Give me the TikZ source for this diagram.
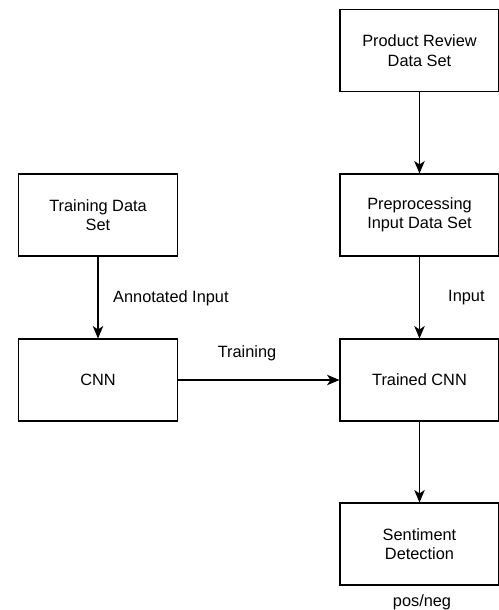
\documentclass[tikz,border=0pt]{standalone}
\usepackage{fontspec}
\setmainfont{Liberation Sans}
\usetikzlibrary{arrows.meta}

\begin{document}
\begin{tikzpicture}[>={Stealth[length=2.5mm,width=2.1mm,inset=0.7mm]},
  block/.style={rectangle,draw=black,line width=0.6pt,minimum width=3.18cm,minimum height=1.64cm,align=center,font=\fontsize{9.3}{11}\selectfont},
  lbl/.style={font=\fontsize{9.3}{11}\selectfont}]
\useasboundingbox (0,0) rectangle (9.98,-12.2);

\node[block] (review) at (8.39,-1.01)  {Product Review\\Data Set};
\node[block] (prep)   at (8.39,-4.30)  {Preprocessing\\Input Data Set};
\node[block] (tcnn)   at (8.39,-7.60)  {Trained CNN};
\node[block] (senti)  at (8.39,-10.88) {Sentiment\\Detection};
\node[block] (tdata)  at (1.96,-4.30)  {Training Data\\Set};
\node[block] (cnn)    at (1.96,-7.60)  {CNN};

\draw[->,line width=0.6pt] (review) -- (prep);
\draw[->,line width=0.6pt] (prep) -- (tcnn);
\draw[->,line width=0.6pt] (tcnn) -- (senti);
\draw[->,line width=0.6pt] (tdata) -- (cnn);
\draw[->,line width=0.6pt] (cnn) -- (tcnn);

\node[lbl,anchor=west] (ann) at (2.14,-5.96) {Annotated Input};
\node[lbl,anchor=west] (inp) at (8.84,-5.96) {Input};
\node[lbl] (trn) at (4.94,-7.06) {Training};
\node[lbl,anchor=base] (pn) at (8.44,-12.13) {pos/neg};

\end{tikzpicture}
\end{document}
